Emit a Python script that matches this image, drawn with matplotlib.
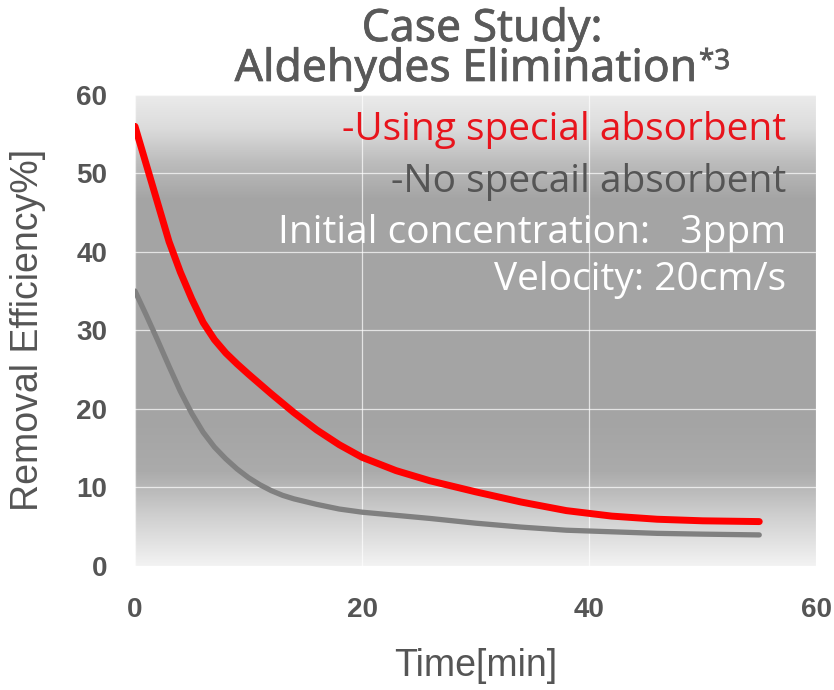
import numpy as np
import matplotlib
matplotlib.use("Agg")
import matplotlib.pyplot as plt
import matplotlib.patheffects as pe
from matplotlib.colors import LinearSegmentedColormap

# Data
time_red = [0, 1, 2, 3, 4, 5, 6, 7, 8, 9, 10, 12, 14, 16, 18, 20, 23, 26, 30, 34, 38, 42, 46, 50, 55]
eff_red = [56, 51.1, 46.2, 41.3, 37.4, 34.0, 31.0, 28.8, 27.1, 25.7, 24.4, 21.9, 19.5, 17.3, 15.4,
           13.8, 12.1, 10.8, 9.4, 8.1, 7.0, 6.3, 5.9, 5.7, 5.6]
time_gray = [0, 1, 2, 3, 4, 5, 6, 7, 8, 9, 10, 11, 12, 13, 14, 16, 18, 20, 23, 26, 30, 34, 38, 42, 46, 50, 55]
eff_gray = [35, 31.9, 28.7, 25.4, 22.2, 19.4, 17.0, 15.1, 13.6, 12.3, 11.2, 10.3, 9.55, 8.95, 8.5, 7.8, 7.2,
            6.8, 6.4, 6.0, 5.4, 4.9, 4.5, 4.3, 4.1, 4.0, 3.9]
x_ticks = [0, 20, 40, 60]
y_ticks = [0, 10, 20, 30, 40, 50, 60]

fig = plt.figure(figsize=(8.34, 6.9), dpi=100)
ax = fig.add_axes([135/834, 1-565.5/690, (816-135)/834, (565.5-95)/690])

# gradient background
stops = [(0.0, (0.95,)*3), (0.10, (0.82,)*3), (0.20, (0.67,)*3), (0.30, (0.645,)*3),
         (0.78, (0.645,)*3), (0.86, (0.74,)*3), (0.93, (0.86,)*3), (1.0, (0.92,)*3)]
cmap = LinearSegmentedColormap.from_list("bg", stops)
grad = np.linspace(1, 0, 256).reshape(-1, 1)
ax.imshow(grad, cmap=cmap, vmin=0, vmax=1, aspect='auto', extent=[0, 1, 0, 1],
          transform=ax.transAxes, zorder=0)

ax.set_xlim(0, 60)
ax.set_ylim(0, 60)
ax.set_xticks(x_ticks)
ax.set_yticks(y_ticks)
ax.grid(True, color='white', linewidth=0.9, alpha=0.7, zorder=1)
ax.set_axisbelow(False)
for s in ax.spines.values():
    s.set_visible(False)
ax.tick_params(length=0, labelsize=20, labelcolor='#555555', pad=20)
ax.tick_params(axis='x', pad=23)
for lab in ax.get_xticklabels() + ax.get_yticklabels():
    lab.set_fontweight('bold')
    lab.set_family('Liberation Sans')

ax.plot(time_gray, eff_gray, color='#808080', linewidth=3.8, solid_capstyle='round', zorder=3)
ax.plot(time_red, eff_red, color='#ff0000', linewidth=5, solid_capstyle='round', zorder=4)

fig.text(476/834, 1-666/690, 'Time[min]', fontsize=27, color='#555555', family='Liberation Sans',
         ha='center', va='center')
fig.text(28/834, 1-330/690, 'Removal Efficiency%]', fontsize=27, color='#555555', family='Liberation Sans',
         ha='center', va='center', rotation=90)

fs = 28
ax.text(786/834, 1-130/690, '-Using special absorbent', transform=fig.transFigure, ha='right', va='center',
        color='#e8141c', fontsize=fs, family='Open Sans', zorder=5)
ax.text(786/834, 1-182/690, '-No specail absorbent', transform=fig.transFigure, ha='right', va='center',
        color='#555555', fontsize=fs, family='Open Sans', zorder=5)
ax.text(786/834, 1-233/690, 'Initial concentration:   3ppm', transform=fig.transFigure, ha='right', va='center',
        color='white', fontsize=fs, family='Open Sans', zorder=5)
ax.text(786/834, 1-280/690, 'Velocity: 20cm/s', transform=fig.transFigure, ha='right', va='center',
        color='white', fontsize=fs, family='Open Sans', zorder=5)

eff = [pe.withStroke(linewidth=0.5, foreground='#595959')]
fig.text(482/834, 1-30/690, 'Case Study:', ha='center', va='center', fontsize=32,
         color='#595959', family='Noto Sans', path_effects=eff)
fig.text(697/834, 1-70/690, 'Aldehydes Elimination', ha='right', va='center', fontsize=32,
         color='#595959', family='Noto Sans', path_effects=eff)
fig.text(699/834, 1-62/690, '*3', ha='left', va='center', fontsize=20,
         color='#595959', family='Noto Sans', path_effects=eff)

fig.savefig('out.png', dpi=100)
